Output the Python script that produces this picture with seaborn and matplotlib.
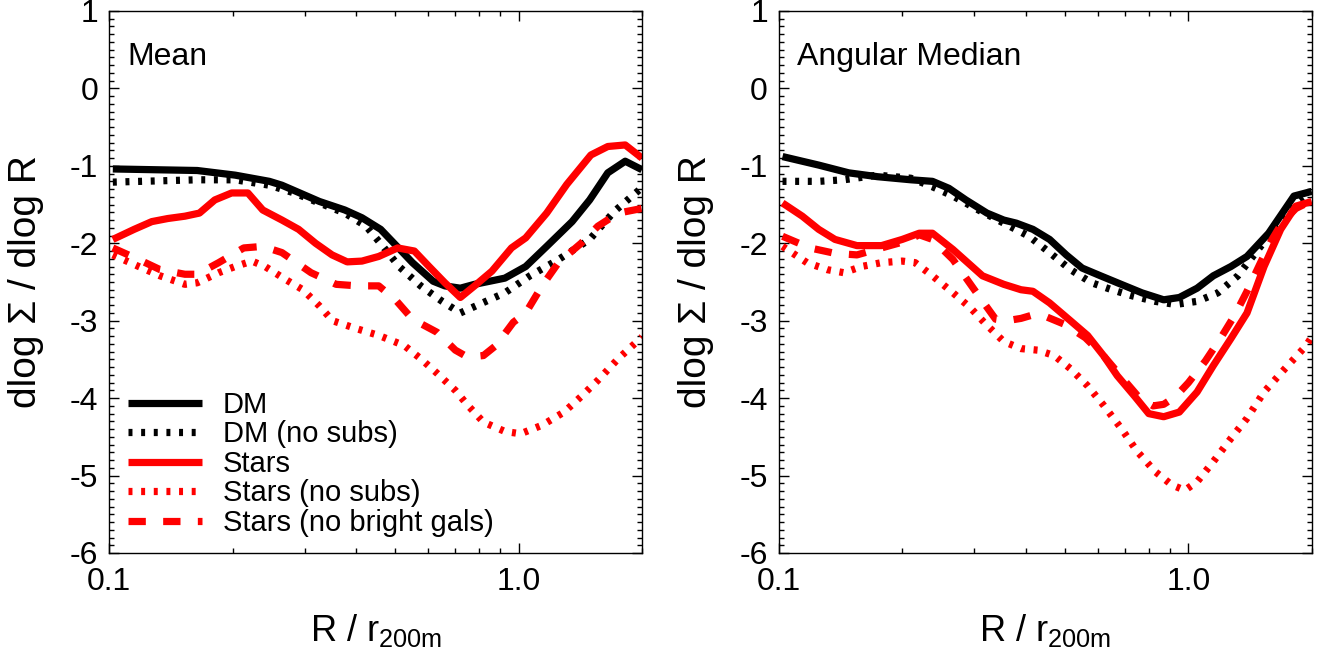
import matplotlib
matplotlib.use("Agg")
import matplotlib.pyplot as plt
import seaborn as sns
from matplotlib.ticker import FixedLocator, FixedFormatter, LogLocator, NullFormatter, MultipleLocator

# ---------------- data ----------------
panel_titles = ["Mean", "Angular Median"]
legend_labels = ["DM", "DM (no subs)", "Stars", "Stars (no subs)", "Stars (no bright gals)"]

# Left panel: Mean
mean_dm_x = [0.102, 0.164, 0.203, 0.246, 0.264, 0.326, 0.376, 0.414, 0.46, 0.5, 0.55, 0.618, 0.66, 0.72,
             0.78, 0.925, 1.04, 1.17, 1.35, 1.49, 1.65, 1.82, 2.0]
mean_dm_y = [-1.04, -1.06, -1.12, -1.20, -1.25, -1.46, -1.57, -1.67, -1.82, -2.02, -2.25, -2.49, -2.55, -2.58,
             -2.53, -2.45, -2.30, -2.04, -1.72, -1.44, -1.09, -0.94, -1.05]

mean_dmns_x = [0.102, 0.164, 0.203, 0.246, 0.283, 0.326, 0.376, 0.424, 0.466, 0.51, 0.576, 0.65, 0.72, 0.80,
               0.925, 1.065, 1.25, 1.49, 1.71, 2.0]
mean_dmns_y = [-1.21, -1.18, -1.18, -1.25, -1.35, -1.48, -1.61, -1.78, -2.04, -2.30, -2.55, -2.75, -2.90, -2.79,
               -2.64, -2.42, -2.21, -1.95, -1.59, -1.28]

mean_st_x = [0.102, 0.115, 0.127, 0.139, 0.153, 0.166, 0.181, 0.199, 0.218, 0.237, 0.264, 0.29, 0.319, 0.35,
             0.381, 0.414, 0.455, 0.506, 0.556, 0.604, 0.66, 0.72, 0.78, 0.86, 0.96, 1.04, 1.17, 1.31, 1.50,
             1.65, 1.82, 2.0]
mean_st_y = [-1.95, -1.82, -1.72, -1.68, -1.65, -1.61, -1.44, -1.35, -1.35, -1.57, -1.70, -1.82, -2.00, -2.15,
             -2.24, -2.23, -2.17, -2.06, -2.10, -2.30, -2.51, -2.70, -2.55, -2.36, -2.06, -1.93, -1.61, -1.24,
             -0.86, -0.75, -0.73, -0.90]

mean_stns_x = [0.102, 0.118, 0.133, 0.153, 0.164, 0.185, 0.203, 0.223, 0.24, 0.27, 0.297, 0.326, 0.351, 0.40,
               0.455, 0.525, 0.576, 0.632, 0.70, 0.75, 0.82, 0.925, 1.01, 1.14, 1.29, 1.42, 1.56, 1.75, 2.0]
mean_stns_y = [-2.15, -2.30, -2.42, -2.53, -2.51, -2.38, -2.30, -2.23, -2.30, -2.47, -2.60, -2.81, -3.00, -3.10,
               -3.19, -3.32, -3.49, -3.68, -3.90, -4.09, -4.31, -4.43, -4.46, -4.35, -4.18, -3.98, -3.77, -3.49,
               -3.21]

mean_stnb_x = [0.102, 0.118, 0.133, 0.153, 0.164, 0.185, 0.213, 0.237, 0.264, 0.311, 0.358, 0.404, 0.455, 0.50,
               0.55, 0.632, 0.70, 0.75, 0.82, 0.88, 0.97, 1.04, 1.14, 1.25, 1.42, 1.56, 1.75, 2.0]
mean_stnb_y = [-2.06, -2.21, -2.34, -2.40, -2.40, -2.25, -2.06, -2.04, -2.12, -2.38, -2.53, -2.55, -2.55, -2.73,
               -2.98, -3.15, -3.38, -3.47, -3.45, -3.32, -3.02, -2.90, -2.55, -2.25, -2.00, -1.78, -1.61, -1.55]

# Right panel: Angular Median
med_dm_x = [0.102, 0.125, 0.148, 0.174, 0.21, 0.237, 0.26, 0.286, 0.322, 0.354, 0.38, 0.417, 0.458, 0.503,
            0.55, 0.61, 0.685, 0.77, 0.87, 0.95, 1.05, 1.15, 1.27, 1.39, 1.57, 1.81, 2.0]
med_dm_y = [-0.88, -0.99, -1.09, -1.14, -1.18, -1.20, -1.29, -1.44, -1.61, -1.70, -1.74, -1.82, -1.95, -2.15,
            -2.32, -2.42, -2.53, -2.64, -2.73, -2.70, -2.58, -2.42, -2.30, -2.17, -1.87, -1.39, -1.33]

med_dmns_x = [0.102, 0.125, 0.144, 0.174, 0.21, 0.237, 0.266, 0.307, 0.354, 0.408, 0.458, 0.515, 0.58, 0.65,
              0.73, 0.83, 0.93, 1.05, 1.18, 1.32, 1.46, 1.64, 1.81, 2.0]
med_dmns_y = [-1.20, -1.20, -1.18, -1.12, -1.16, -1.27, -1.39, -1.57, -1.74, -1.91, -2.12, -2.34, -2.51, -2.60,
              -2.68, -2.75, -2.79, -2.75, -2.64, -2.42, -2.12, -1.78, -1.52, -1.35]

med_st_x = [0.102, 0.114, 0.125, 0.137, 0.155, 0.178, 0.20, 0.22, 0.237, 0.266, 0.314, 0.354, 0.39, 0.417,
            0.458, 0.515, 0.567, 0.62, 0.67, 0.74, 0.80, 0.87, 0.95, 1.05, 1.15, 1.27, 1.39, 1.53, 1.68, 1.83, 2.0]
med_st_y = [-1.48, -1.65, -1.82, -1.95, -2.03, -2.03, -1.95, -1.87, -1.87, -2.08, -2.42, -2.53, -2.60, -2.62,
            -2.77, -3.00, -3.19, -3.45, -3.71, -3.98, -4.20, -4.24, -4.18, -3.92, -3.58, -3.23, -2.90, -2.30,
            -1.82, -1.52, -1.46]

med_stns_x = [0.102, 0.117, 0.131, 0.144, 0.159, 0.178, 0.20, 0.215, 0.237, 0.266, 0.293, 0.318, 0.354, 0.39,
              0.428, 0.47, 0.515, 0.567, 0.62, 0.685, 0.75, 0.83, 0.91, 0.98, 1.05, 1.15, 1.27, 1.39, 1.53, 1.72,
              1.94, 2.0]
med_stns_y = [-2.04, -2.25, -2.34, -2.38, -2.30, -2.25, -2.23, -2.25, -2.42, -2.64, -2.83, -3.03, -3.27, -3.36,
              -3.38, -3.45, -3.62, -3.84, -4.09, -4.39, -4.69, -4.95, -5.12, -5.19, -5.08, -4.82, -4.52, -4.26,
              -3.92, -3.62, -3.32, -3.21]

med_stnb_x = [0.102, 0.119, 0.137, 0.155, 0.178, 0.205, 0.22, 0.237, 0.266, 0.30, 0.338, 0.36, 0.39, 0.42,
              0.45, 0.50, 0.56, 0.62, 0.70, 0.76, 0.82, 0.87, 0.93, 1.0, 1.1, 1.2, 1.3, 1.39, 1.5, 1.6, 1.7, 1.83,
              2.0]
med_stnb_y = [-1.91, -2.06, -2.13, -2.15, -2.06, -1.97, -1.89, -1.95, -2.21, -2.60, -2.98, -3.00, -2.97, -2.92,
              -2.95, -3.05, -3.22, -3.45, -3.78, -4.00, -4.10, -4.08, -3.98, -3.80, -3.52, -3.22, -2.92, -2.62,
              -2.25, -1.95, -1.72, -1.55, -1.45]

panels = [
    [(mean_dm_x, mean_dm_y), (mean_dmns_x, mean_dmns_y), (mean_st_x, mean_st_y),
     (mean_stns_x, mean_stns_y), (mean_stnb_x, mean_stnb_y)],
    [(med_dm_x, med_dm_y), (med_dmns_x, med_dmns_y), (med_st_x, med_st_y),
     (med_stns_x, med_stns_y), (med_stnb_x, med_stnb_y)],
]

# ---------------- style ----------------
sns.set_theme(style="ticks")
plt.rcParams["font.family"] = ["Liberation Sans", "DejaVu Sans"]
plt.rcParams["mathtext.fontset"] = "custom"
plt.rcParams["mathtext.rm"] = "Liberation Sans"
plt.rcParams["mathtext.it"] = "Liberation Sans:italic"
plt.rcParams["axes.unicode_minus"] = False
for k in ["text.color", "axes.labelcolor", "xtick.color", "ytick.color", "axes.edgecolor"]:
    plt.rcParams[k] = "black"

LW = 5.2
DOT = (0, (0.55, 1.2))
DASH = (0, (2.4, 2.4))
styles = [
    dict(color="black", linestyle="-"),
    dict(color="black", linestyle=DOT),
    dict(color="#ff0000", linestyle="-"),
    dict(color="#ff0000", linestyle=DOT),
    dict(color="#ff0000", linestyle=DASH),
]

fig = plt.figure(figsize=(13.18, 6.53), dpi=100)
W, H = 1318.0, 653.0
ax_boxes = [(109.3, 642.0), (779.0, 1311.7)]
top_px, bot_px = 11.0, 553.0

for i, (l, r) in enumerate(ax_boxes):
    ax = fig.add_axes([l / W, 1 - bot_px / H, (r - l) / W, (bot_px - top_px) / H])
    for (xs, ys), st, lab in zip(panels[i], styles, legend_labels):
        sns.lineplot(x=xs, y=ys, ax=ax, linewidth=LW, label=lab,
                     solid_capstyle="butt", dash_capstyle="butt", solid_joinstyle="round", **st)
    ax.set_xscale("log")
    ax.set_xlim(0.1, 2.0)
    ax.set_ylim(-6, 1)
    ax.xaxis.set_major_locator(FixedLocator([0.1, 1.0]))
    ax.xaxis.set_major_formatter(FixedFormatter(["0.1", "1.0"]))
    ax.xaxis.set_minor_locator(LogLocator(base=10, subs=[2, 3, 4, 5, 6, 7, 8, 9]))
    ax.xaxis.set_minor_formatter(NullFormatter())
    ax.yaxis.set_major_locator(MultipleLocator(1))
    ax.yaxis.set_minor_locator(MultipleLocator(0.1))
    ax.tick_params(which="both", direction="in", top=True, right=True, width=1.0, colors="black",
                   labelsize=23)
    ax.tick_params(which="major", length=7)
    ax.tick_params(which="minor", length=3.6)
    ax.tick_params(axis="y", pad=8)
    ax.tick_params(axis="x", pad=10)
    for sp in ax.spines.values():
        sp.set_linewidth(1.0)
        sp.set_color("black")
    ax.set_xlabel(r"R / r$_{\mathrm{200m}}$", fontsize=26, color="black")
    ax.xaxis.label.set_va("baseline")
    ax.xaxis.set_label_coords(0.5, (bot_px - 641) / (bot_px - top_px))
    ax.set_ylabel("dlog \u03a3 / dlog R", fontsize=28, color="black")
    ax.yaxis.set_label_coords(-0.122, 0.5)
    ax.text(0.034, 0.9, panel_titles[i], transform=ax.transAxes, fontsize=23, va="baseline", ha="left",
            color="black")
    if i == 0:
        leg = ax.legend(loc="lower left", bbox_to_anchor=(0.035, 0.03), frameon=False, fontsize=21,
                        handlelength=2.55, handletextpad=0.7, labelspacing=0.05, borderpad=0,
                        borderaxespad=0)
        for t in leg.get_texts():
            t.set_color("black")
    else:
        ax.get_legend().remove()

fig.savefig("out.png", dpi=100)
